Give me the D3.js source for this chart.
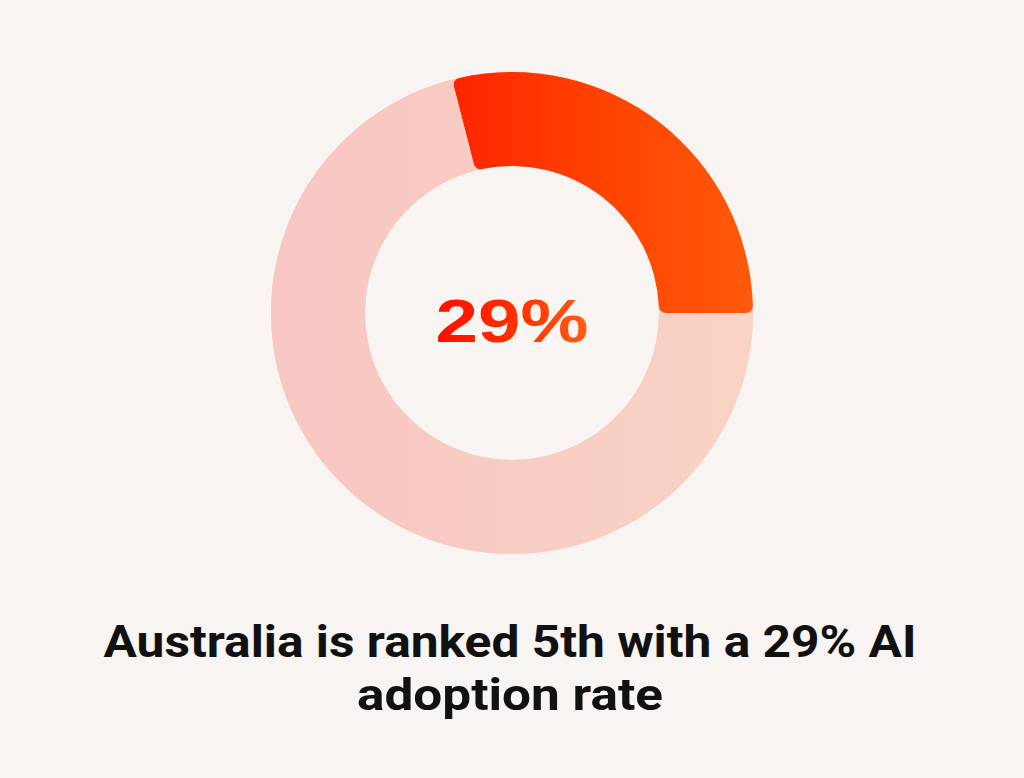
<!DOCTYPE html>
<html>
<head>
<meta charset="utf-8">
<script src="https://cdn.jsdelivr.net/npm/d3@7"></script>
<style>
  html, body { margin: 0; padding: 0; background: #f8f4f1; }
  svg { display: block; }
</style>
</head>
<body>
<div id="chart"></div>
<script>
// dados do gráfico
const categories = ["AI adoption", "Other"];
const shares = [29, 71];
const centerLabel = "29%";
const titleLines = ["Australia is ranked 5th with a 29% AI", "adoption rate"];

const width = 1024;
const height = 778;
const cx = 512, cy = 313;
const outerR = 241, innerR = 147;

const svg = d3.select("#chart")
  .append("svg")
  .attr("width", width)
  .attr("height", height);

svg.append("rect")
  .attr("width", width)
  .attr("height", height)
  .attr("fill", "#f8f4f1");

const defs = svg.append("defs");

function hGradient(id, x1, x2, stops) {
  const grad = defs.append("linearGradient")
    .attr("id", id)
    .attr("gradientUnits", "userSpaceOnUse")
    .attr("x1", x1).attr("x2", x2)
    .attr("y1", 0).attr("y2", 0);
  stops.forEach(s => grad.append("stop").attr("offset", s[0]).attr("stop-color", s[1]));
}

// gradientes em coordenadas locais do grupo do donut
hGradient("gradAI", -60, outerR, [[0, "#ff2400"], [0.45, "#ff4000"], [1, "#ff5a0a"]]);
hGradient("gradRest", -outerR, outerR, [[0, "#f8c6c3"], [1, "#f9d3c3"]]);
// gradiente do texto central (coordenadas da página)
hGradient("gradText", cx - 76, cx + 76, [[0, "#ff0d00"], [0.6, "#ff3600"], [1, "#ff5e14"]]);

// o arco laranja termina às 3 horas
const total = d3.sum(shares);
const start = Math.PI / 2 - (shares[0] / total) * 2 * Math.PI;

const pie = d3.pie()
  .sort(null)
  .value(d => d)
  .startAngle(start)
  .endAngle(start + 2 * Math.PI);

const arcs = pie(shares);

const arcRest = d3.arc().innerRadius(innerR).outerRadius(outerR);
const arcAI = d3.arc().innerRadius(innerR).outerRadius(outerR).cornerRadius(7);

const g = svg.append("g").attr("transform", `translate(${cx},${cy})`);

// anel de fundo completo
g.append("path")
  .attr("d", arcRest({ startAngle: 0, endAngle: 2 * Math.PI }))
  .attr("fill", "url(#gradRest)");

g.selectAll("path.slice")
  .data(arcs)
  .enter().append("path")
  .attr("class", "slice")
  .attr("d", (d, i) => i === 0 ? arcAI(d) : arcRest(d))
  .attr("fill", (d, i) => i === 0 ? "url(#gradAI)" : "url(#gradRest)");

svg.append("text")
  .attr("x", cx)
  .attr("y", 342)
  .attr("text-anchor", "middle")
  .attr("font-family", "Liberation Sans, Arial, sans-serif")
  .attr("font-weight", "bold")
  .attr("font-size", 61)
  .attr("textLength", 153)
  .attr("lengthAdjust", "spacingAndGlyphs")
  .attr("fill", "url(#gradText)")
  .text(centerLabel);

const lineWidths = [813, 306];
const lineBase = [657, 710];

svg.selectAll("text.title")
  .data(titleLines)
  .enter().append("text")
  .attr("class", "title")
  .attr("x", 510)
  .attr("y", (d, i) => lineBase[i])
  .attr("text-anchor", "middle")
  .attr("font-family", "Roboto, Inter, sans-serif")
  .attr("font-weight", "bold")
  .attr("font-size", 45)
  .attr("fill", "#111")
  .attr("textLength", (d, i) => lineWidths[i])
  .attr("lengthAdjust", "spacingAndGlyphs")
  .text(d => d);
</script>
</body>
</html>
